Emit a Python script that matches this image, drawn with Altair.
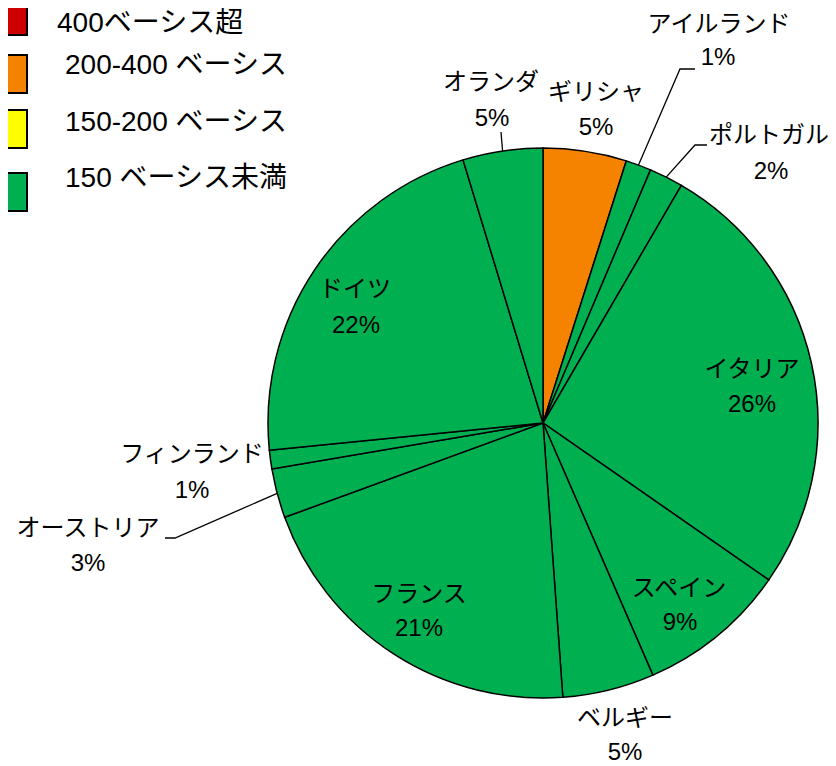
import math
import altair as alt
import pandas as pd

# ---- data ----
countries = ["ギリシャ", "アイルランド", "ポルトガル", "イタリア", "スペイン", "ベルギー",
             "フランス", "オーストリア", "フィンランド", "ドイツ", "オランダ"]
shares = [4.9, 1.5, 2.0, 26.3, 8.8, 5.4, 20.6, 2.9, 1.1, 21.9, 4.7]
pct_labels = ["5%", "1%", "2%", "26%", "9%", "5%", "21%", "3%", "1%", "22%", "5%"]
tiers = ["200-400 ベーシス"] + ["150 ベーシス未満"] * 10

legend_items = ["400ベーシス超", "200-400 ベーシス", "150-200 ベーシス", "150 ベーシス未満"]
legend_colors = ["#CC0000", "#F58300", "#FFFF00", "#00B050"]

# ---- layout (pixel positions in page coordinates; plot = page - 8) ----
OFF = 8
CX, CY, R = 543 - OFF, 423 - OFF, 275
FONT = "'Liberation Sans', 'Noto Sans CJK JP', sans-serif"

label_pos = {  # name center, pct center (page coords)
    "オランダ": ((491, 83), (492, 119)),
    "ギリシャ": ((596, 93), (596, 128)),
    "アイルランド": ((719, 25), (718, 58)),
    "ポルトガル": ((769, 136), (771, 172)),
    "イタリア": ((752, 370), (752, 405)),
    "スペイン": ((679, 589), (680, 623)),
    "ベルギー": ((625, 719), (625, 753)),
    "フランス": ((419, 595), (419, 629)),
    "オーストリア": ((88, 529), (88, 564)),
    "フィンランド": ((192, 455), (192, 491)),
    "ドイツ": ((355, 290), (356, 326)),
}
leader_pts = {  # elbow/end points after the rim point (page coords)
    "アイルランド": [(680, 69), (695, 69)],
    "ポルトガル": [(695, 145), (707, 145)],
    "オーストリア": [(175, 538), (165, 538)],
    "オランダ": [(501, 132)],
}
legend_box_top = [-3, 55, 110, 173]
legend_box_h = 38
legend_text_y = [24, 66, 123, 179]
legend_text_x = [57, 65, 65, 65]

# ---- tables ----
pie = pd.DataFrame({"country": countries, "share": shares, "tier": tiers,
                    "idx": list(range(len(countries)))})

total = sum(shares)
cum = 0.0
mids = {}
for c, s in zip(countries, shares):
    mids[c] = (cum + s / 2) / total * 2 * math.pi
    cum += s

lab_rows = []
for c, p in zip(countries, pct_labels):
    (nx, ny), (px, py) = label_pos[c]
    lab_rows.append({"text": c, "x": nx - OFF, "y": ny - OFF})
    lab_rows.append({"text": p, "x": px - OFF, "y": py - OFF})
labels = pd.DataFrame(lab_rows)

lead_rows = []
for c, pts in leader_pts.items():
    a = mids[c]
    lead_rows.append({"country": c, "step": 0,
                      "x": CX + R * math.sin(a), "y": CY - R * math.cos(a)})
    for k, (px, py) in enumerate(pts, start=1):
        lead_rows.append({"country": c, "step": k, "x": px - OFF, "y": py - OFF})
leaders = pd.DataFrame(lead_rows)

leg = pd.DataFrame({"item": legend_items})
leg["y0"] = [t - OFF for t in legend_box_top]
leg["y1"] = leg["y0"] + legend_box_h
leg["ty"] = [t - OFF for t in legend_text_y]
leg["tx"] = [t - OFF for t in legend_text_x]
leg["x0"] = -10
leg["x1"] = 27 - OFF

color_scale = alt.Scale(domain=legend_items, range=legend_colors)

arcs = alt.Chart(pie).mark_arc(radius=R, stroke="black", strokeWidth=1.5).encode(
    theta=alt.Theta("share:Q", stack=True),
    order=alt.Order("idx:Q"),
    color=alt.Color("tier:N", scale=color_scale, legend=None),
    x=alt.value(CX),
    y=alt.value(CY),
)

lines = alt.Chart(leaders).mark_line(color="black", strokeWidth=1.3).encode(
    x=alt.X("x:Q", scale=None, axis=None),
    y=alt.Y("y:Q", scale=None, axis=None),
    detail="country:N",
    order="step:Q",
)

texts = alt.Chart(labels).mark_text(font=FONT, fontSize=24, align="center",
                                     baseline="middle", color="black").encode(
    x=alt.X("x:Q", scale=None, axis=None),
    y=alt.Y("y:Q", scale=None, axis=None),
    text="text:N",
)

leg_rect = alt.Chart(leg).mark_rect(stroke="black", strokeWidth=2).encode(
    x=alt.X("x0:Q", scale=None, axis=None), x2="x1:Q",
    y=alt.Y("y0:Q", scale=None, axis=None), y2="y1:Q",
    color=alt.Color("item:N", scale=color_scale, legend=None),
)

leg_text = alt.Chart(leg).mark_text(font=FONT, fontSize=28, align="left",
                                     baseline="middle", color="black").encode(
    x=alt.X("tx:Q", scale=None, axis=None),
    y=alt.Y("ty:Q", scale=None, axis=None),
    text="item:N",
)

chart = alt.layer(arcs, lines, texts, leg_rect, leg_text).properties(
    width=836 - 2 * OFF, height=766 - OFF,
    autosize=alt.AutoSizeParams(type="none"), padding=0,
).configure_view(stroke=None)

chart.save("out.html", embed_options={"renderer": "svg", "actions": False})
